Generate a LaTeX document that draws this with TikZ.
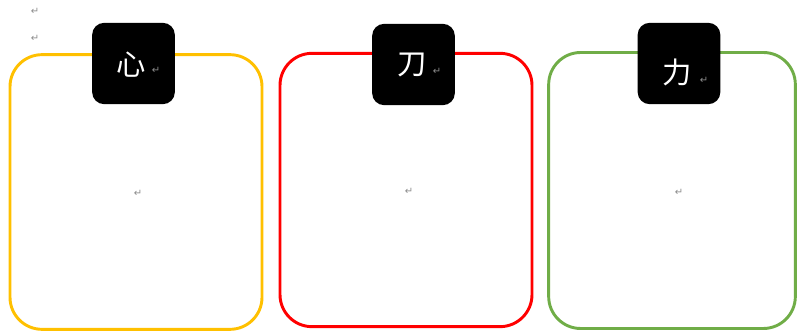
\documentclass[tikz,border=0pt]{standalone}
\usepackage{fontspec}
\newfontfamily\cjk{Noto Sans CJK SC}
\newfontfamily\retfont{DejaVu Sans}
\usepackage{xcolor}
\usetikzlibrary{positioning}
\definecolor{boxyellow}{RGB}{255,192,0}
\definecolor{boxred}{RGB}{255,0,0}
\definecolor{boxgreen}{RGB}{112,173,71}
\tikzset{
  frame/.style={draw=#1, line width=2.2pt, rounded corners=24pt, fill=white,
                inner sep=0pt},
  tag/.style={fill=black, rounded corners=9pt, minimum width=62pt,
              minimum height=61pt, inner sep=0pt},
  glyph/.style={font=\cjk\fontsize{22}{22}\selectfont, text=white, inner sep=0pt},
  ret/.style={font=\retfont\fontsize{7.5}{7.5}\selectfont, text=gray!90, inner sep=0pt}
}

\begin{document}
\begin{tikzpicture}[x=0.75pt, y=-0.75pt]
        \useasboundingbox (0,0) rectangle (799,334);
        % the three frames
        \node[frame=boxyellow, minimum width=189pt, minimum height=206pt] (heart) at (136,192) {};
        \node[frame=boxred, minimum width=189pt, minimum height=205pt] (blade) at (406,190) {};
        \node[frame=boxgreen, minimum width=185pt, minimum height=207pt] (force) at (672,190.5) {};
        % black tags on top
        \node[tag] (heart tag) at (133.5,63.5) {};
        \node[tag] (blade tag) at (413.5,64.5) {};
        \node[tag] (force tag) at (679,63.5) {};
        \node[glyph] (heart char) at (131.5,65) {心};
        \node[glyph] (blade char) at (412,65) {刀};
        \node[glyph] (force char) at (677,72) {力};
        % paragraph marks
        \node[ret] (mark a) at (35,11) {↵};
        \node[ret] (mark b) at (35,38) {↵};
        \node[ret] (heart mark) at (156,70) {↵};
        \node[ret] (blade mark) at (437,71) {↵};
        \node[ret] (force mark) at (704,80) {↵};
        \node[ret] (heart mid) at (138,193) {↵};
        \node[ret] (blade mid) at (409,191) {↵};
        \node[ret] (force mid) at (679,192) {↵};
      \end{tikzpicture}
\end{document}
